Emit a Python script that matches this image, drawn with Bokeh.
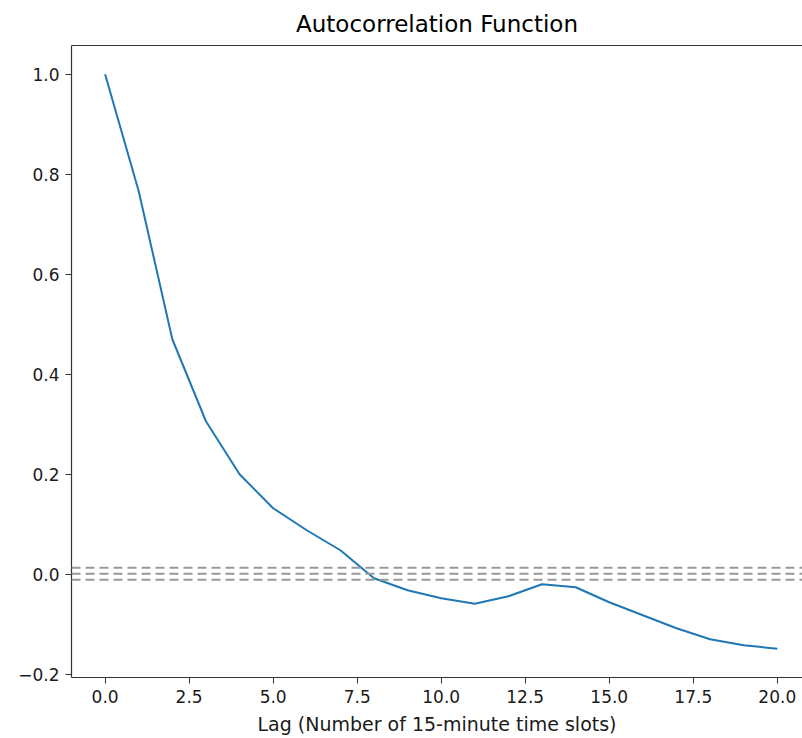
from bokeh.plotting import figure
from bokeh.models import FixedTicker, CustomJSTickFormatter, Span, LinearAxis, Range1d
from bokeh.embed import file_html
from bokeh.resources import INLINE

lags = list(range(21))
acf = [1.0, 0.766, 0.47, 0.306, 0.2, 0.132, 0.088, 0.048, -0.008, -0.032,
       -0.048, -0.059, -0.044, -0.02, -0.026, -0.056, -0.082, -0.108, -0.13,
       -0.142, -0.149]
conf_levels = [0.013, 0.001, -0.011]
x_ticks = [0.0, 2.5, 5.0, 7.5, 10.0, 12.5, 15.0, 17.5, 20.0]
y_ticks = [-0.2, 0.0, 0.2, 0.4, 0.6, 0.8, 1.0]

FONT = "DejaVu Sans"

p = figure(width=802, height=738, output_backend="svg", toolbar_location=None,
           x_range=Range1d(-1, 20.75), y_range=Range1d(-0.2065, 1.0575),
           title="Autocorrelation Function",
           min_border_left=71, min_border_top=44, min_border_bottom=61,
           min_border_right=0)
p.title.align = "center"
p.title.text_font = FONT
p.title.text_font_size = "23px"
p.title.text_font_style = "normal"
p.title.text_color = "#000000"
p.title.standoff = 17
p.title.offset = 4
p.outline_line_color = None
p.xgrid.visible = False
p.ygrid.visible = False

fmt = CustomJSTickFormatter(code="return tick.toFixed(1).replace('-', '\u2212');")

for ax in (p.xaxis[0], p.yaxis[0]):
    ax.major_label_text_font = FONT
    ax.major_label_text_font_size = "17px"
    ax.major_label_text_color = "#1a1a1a"
    ax.axis_line_color = "#333333"
    ax.axis_line_width = 1.2
    ax.major_tick_line_color = "#333333"
    ax.major_tick_out = 6
    ax.major_tick_in = 0
    ax.minor_tick_line_color = None
    ax.formatter = fmt

p.xaxis[0].ticker = FixedTicker(ticks=x_ticks)
p.yaxis[0].ticker = FixedTicker(ticks=y_ticks)
p.xaxis[0].axis_label = "Lag (Number of 15-minute time slots)"
p.xaxis[0].axis_label_text_font = FONT
p.xaxis[0].axis_label_text_font_size = "19px"
p.xaxis[0].axis_label_text_font_style = "normal"
p.xaxis[0].axis_label_text_color = "#1a1a1a"
p.xaxis[0].axis_label_standoff = 7
p.xaxis[0].major_label_standoff = 6
p.yaxis[0].major_label_standoff = 6

top = LinearAxis(major_tick_line_color=None, minor_tick_line_color=None,
                 major_label_text_font_size="0px", axis_line_color="#333333",
                 axis_line_width=1.2, ticker=FixedTicker(ticks=[]))
p.add_layout(top, "above")

for lvl in conf_levels:
    p.add_layout(Span(location=lvl, dimension="width", line_color="#999999",
                      line_width=2.2, line_dash="9 5"))

p.line(lags, acf, line_color="#1f77b4", line_width=2)

open("out.html", "w").write(file_html(p, INLINE))
